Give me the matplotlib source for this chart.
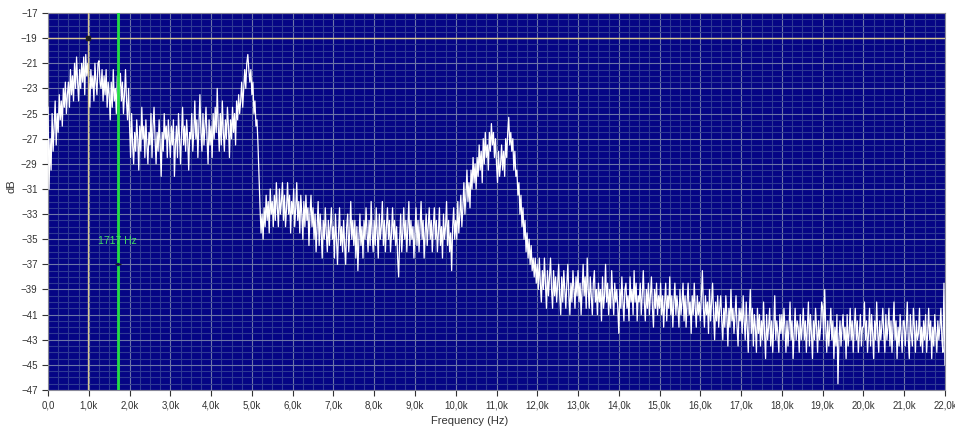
import numpy as np
import matplotlib.pyplot as plt
from matplotlib.ticker import MultipleLocator, FixedLocator

plt.rcParams['font.family'] = ['Liberation Sans', 'DejaVu Sans']

# spectrum magnitude in dB, one value every 25 Hz from 0 to 22 kHz (one row per 0.5 kHz)
step_hz = 25
spectrum_db = [
    -24.5, -31.0, -27.0, -29.5, -25.0, -28.0, -26.0, -24.0, -27.5, -25.0, -26.5, -23.5, -25.5, -24.0, -26.0, -23.0, -24.5, -22.5, -25.0, -23.5,
    -22.5, -24.5, -21.5, -23.5, -22.0, -24.0, -21.0, -23.0, -20.5, -22.5, -24.0, -21.5, -23.0, -21.0, -22.5, -20.5, -23.5, -20.3, -22.0, -21.0,
    -22.5, -24.5, -21.5, -23.0, -22.0, -24.0, -21.0, -22.5, -23.5, -21.0, -20.8, -22.5, -23.0, -21.5, -24.0, -22.0, -23.5, -21.5, -24.5, -22.5,
    -23.5, -25.5, -22.5, -24.5, -21.5, -24.0, -23.0, -25.0, -22.0, -24.5, -23.0, -21.8, -24.0, -22.5, -25.0, -23.5, -21.5, -24.0, -25.5, -23.0,
    -26.0, -28.5, -25.0, -27.5, -29.0, -26.5, -28.0, -25.5, -27.0, -29.5, -26.0, -28.0, -24.5, -27.0, -26.0, -28.5, -25.5, -27.5, -29.0, -26.5,
    -27.5, -25.0, -28.5, -26.0, -24.5, -27.0, -29.0, -26.5, -28.0, -25.5, -27.5, -30.0, -26.5, -28.0, -25.0, -27.0, -26.0, -28.5, -25.5, -27.0,
    -28.5, -26.0, -27.5, -25.5, -30.0, -27.5, -26.0, -28.5, -25.0, -27.0, -29.0, -26.5, -24.5, -27.5, -26.0, -28.0, -25.5, -27.0, -29.5, -26.5,
    -27.0, -25.0, -28.0, -26.5, -24.0, -27.0, -25.5, -28.5, -26.0, -23.5, -26.5, -28.0, -25.0, -27.5, -26.0, -24.5, -27.0, -29.0, -25.5, -27.5,
    -26.0, -28.5, -25.0, -27.0, -24.5, -26.5, -23.0, -26.0, -28.0, -25.0, -27.5, -24.0, -26.5, -28.0, -25.5, -27.0, -24.5, -26.0, -28.5, -25.5,
    -27.0, -24.5, -26.5, -25.0, -27.5, -24.0, -25.5, -23.5, -25.0, -24.0, -22.5, -24.5, -23.0, -21.5, -23.0, -21.0, -20.3, -21.5, -22.5, -21.5,
    -23.5, -22.5, -25.0, -24.0, -26.0, -25.5, -27.5, -30.0, -32.5, -34.5, -33.0, -35.0, -32.5, -34.0, -31.5, -33.5, -32.0, -34.5, -31.0, -33.0,
    -32.0, -34.0, -31.5, -33.5, -30.5, -32.5, -34.0, -31.0, -33.0, -32.0, -30.5, -33.5, -31.5, -34.0, -32.5, -30.5, -33.0, -31.5, -34.5, -32.0,
    -33.0, -31.0, -34.0, -32.5, -30.5, -33.5, -32.0, -34.5, -31.5, -33.0, -35.0, -32.0, -34.0, -31.5, -33.5, -32.5, -35.5, -33.0, -31.5, -34.0,
    -32.5, -35.0, -33.0, -36.0, -34.0, -32.0, -35.5, -33.0, -34.5, -36.5, -33.5, -35.0, -32.5, -34.5, -36.0, -33.5, -35.5, -34.0, -32.5, -35.0,
    -34.0, -36.5, -33.0, -35.0, -37.0, -34.5, -32.5, -35.5, -34.0, -36.0, -33.5, -35.5, -37.0, -34.0, -33.0, -36.0, -34.5, -32.0, -35.0, -33.5,
    -35.5, -33.5, -36.5, -34.0, -37.5, -35.0, -33.0, -35.5, -34.0, -36.5, -33.5, -35.0, -32.5, -34.5, -36.0, -33.5, -35.5, -32.0, -34.5, -36.0,
    -33.5, -35.5, -32.5, -34.5, -36.5, -33.0, -35.0, -34.0, -32.0, -35.5, -33.5, -36.0, -34.0, -32.5, -35.0, -33.5, -36.0, -34.5, -32.5, -35.0,
    -33.5, -35.5, -34.0, -36.5, -38.0, -35.0, -33.0, -36.0, -34.5, -32.5, -35.0, -33.5, -36.0, -34.0, -32.0, -35.5, -33.5, -35.0, -34.0, -36.5,
    -34.5, -32.5, -35.5, -33.5, -36.0, -34.0, -32.0, -35.0, -33.5, -36.5, -34.5, -33.0, -35.5, -34.0, -32.5, -35.0, -33.5, -36.0, -34.0, -32.5,
    -35.0, -33.5, -36.0, -34.5, -32.5, -35.5, -34.0, -36.5, -33.0, -35.0, -34.0, -32.0, -35.5, -33.5, -36.0, -34.5, -37.5, -34.0, -32.5, -35.0,
    -33.5, -35.0, -32.0, -34.5, -33.0, -31.5, -34.0, -32.5, -30.5, -33.0, -31.5, -29.5, -32.0, -30.5, -32.5, -29.5, -31.0, -28.5, -30.5, -29.0,
    -31.0, -28.5, -30.0, -27.5, -29.5, -28.0, -30.5, -27.0, -29.0, -26.5, -28.5, -27.5, -29.5, -26.5, -28.0, -25.8, -27.5, -26.5, -28.5, -27.0,
    -29.0, -30.5, -28.0, -30.0, -29.0, -27.5, -29.5, -28.0, -30.0, -27.0, -28.5, -26.5, -25.3, -27.5, -26.5, -28.0, -27.0, -29.5, -28.0, -30.0,
    -29.5, -31.5, -30.5, -33.0, -31.5, -34.0, -32.5, -35.0, -33.5, -36.0, -34.5, -36.5, -35.0, -37.0, -35.5, -37.5, -36.5, -38.0, -36.5, -38.5,
    -37.0, -39.0, -36.5, -38.5, -40.0, -37.5, -39.0, -36.5, -38.5, -40.5, -37.5, -39.5, -38.0, -36.5, -39.0, -40.5, -37.5, -39.5, -38.0, -40.0,
    -38.5, -37.0, -39.5, -41.0, -38.0, -40.0, -37.5, -39.0, -40.5, -38.5, -37.0, -39.5, -41.0, -38.5, -40.0, -37.5, -39.0, -40.5, -38.0, -39.5,
    -37.5, -40.0, -38.5, -41.0, -39.0, -37.0, -39.5, -38.0, -40.5, -36.5, -39.0, -40.5, -38.0, -39.5, -41.0, -38.5, -37.5, -40.0, -39.0, -41.0,
    -38.5, -40.0, -39.0, -41.5, -38.0, -40.5, -39.5, -37.0, -40.0, -38.5, -41.0, -39.0, -40.5, -37.5, -39.5, -41.0, -38.5, -40.0, -39.0, -40.5,
    -42.5, -39.0, -40.5, -38.0, -40.0, -41.5, -39.0, -38.5, -40.5, -39.5, -41.5, -38.0, -40.0, -39.0, -41.0, -37.5, -40.0, -38.5, -41.5, -39.5,
    -40.0, -38.5, -41.0, -39.5, -37.5, -40.0, -41.5, -39.0, -40.5, -38.5, -41.0, -39.5, -38.0, -40.5, -42.0, -39.0, -40.5, -38.5, -41.0, -39.5,
    -40.5, -38.5, -41.0, -39.5, -42.0, -40.0, -38.5, -41.5, -39.5, -40.5, -38.0, -41.0, -39.5, -42.0, -40.0, -38.5, -41.0, -39.5, -40.5, -42.0,
    -39.0, -41.0, -40.0, -38.5, -41.5, -39.5, -42.0, -40.0, -38.5, -41.0, -40.0, -42.5, -39.5, -41.0, -38.5, -40.5, -42.0, -39.5, -41.0, -40.0,
    -41.5, -39.5, -37.5, -40.5, -42.0, -39.5, -41.0, -40.0, -42.5, -39.0, -41.5, -40.0, -38.5, -41.0, -43.0, -40.0, -41.5, -39.5, -42.0, -40.5,
    -39.5, -41.5, -43.0, -40.5, -42.0, -39.5, -41.0, -43.5, -40.5, -42.0, -39.0, -41.5, -40.5, -42.5, -41.0, -39.5, -42.0, -43.5, -40.5, -41.5,
    -40.5, -42.5, -39.5, -41.5, -43.0, -40.0, -42.0, -44.0, -41.0, -39.0, -42.5, -40.5, -43.5, -41.0, -42.0, -44.0, -40.5, -42.5, -41.0, -43.5,
    -41.5, -43.0, -40.0, -42.5, -44.5, -41.0, -43.0, -42.0, -40.5, -43.5, -41.5, -44.0, -42.0, -39.5, -43.0, -41.5, -42.5, -44.0, -41.0, -42.5,
    -41.0, -43.0, -40.5, -42.0, -44.0, -41.5, -43.5, -42.0, -40.0, -43.0, -41.5, -44.5, -42.5, -40.5, -43.0, -41.5, -42.0, -44.0, -41.0, -43.0,
    -42.0, -40.5, -43.0, -41.5, -44.0, -42.0, -40.0, -43.5, -41.0, -42.5, -44.5, -41.5, -43.0, -40.5, -42.0, -44.0, -41.5, -43.0, -42.0, -40.0,
    -40.5, -43.0, -39.0, -42.0, -44.0, -41.5, -43.5, -42.0, -40.5, -43.0, -41.5, -44.5, -42.0, -43.5, -41.0, -46.5, -43.0, -41.5, -43.5, -42.0,
    -41.0, -43.0, -42.0, -44.5, -41.0, -43.5, -42.5, -40.5, -43.0, -41.5, -44.0, -42.0, -40.5, -43.0, -41.5, -44.0, -42.5, -41.0, -43.5, -42.0,
    -42.0, -40.0, -43.0, -41.5, -44.0, -42.5, -40.5, -43.5, -41.0, -42.5, -44.5, -41.5, -43.0, -40.0, -42.5, -44.0, -41.5, -43.0, -42.0, -40.5,
    -42.5, -44.0, -41.0, -43.0, -42.0, -40.5, -43.5, -41.5, -44.0, -42.0, -40.0, -43.0, -41.5, -44.5, -42.0, -43.5, -41.0, -42.5, -44.0, -41.5,
    -41.5, -43.5, -42.0, -40.0, -43.0, -44.5, -41.0, -42.5, -43.5, -40.5, -42.0, -44.0, -41.5, -43.0, -42.5, -40.5, -43.5, -42.0, -44.0, -41.5,
    -43.0, -41.0, -44.0, -42.5, -40.5, -43.0, -41.5, -44.5, -42.0, -43.5, -41.0, -42.5, -44.0, -41.5, -43.0, -42.0, -40.5, -43.0, -44.0, -38.5,
    -45.0,
]
freq_hz = np.arange(len(spectrum_db)) * step_hz

# cursors
cursor1_hz = 990
cursor1_db = -19
cursor2_hz = 1717
cursor2_db = -37
cursor2_label = '1717 Hz'

x_ticks = np.arange(0, 22001, 1000)
x_labels = ['0,0'] + [f'{k},0k' for k in range(1, 23)]
y_ticks = np.arange(-47, -16, 2)

fig = plt.figure(figsize=(9.55, 4.28), dpi=100)
ax = fig.add_axes([0.0503, 0.0888, 0.9392, 0.8808])
ax.set_facecolor('#050585')

ax.plot(freq_hz, spectrum_db, color='white', linewidth=0.9, zorder=3)

ax.set_xlim(0, 22000)
ax.set_ylim(-47, -17)

ax.xaxis.set_major_locator(FixedLocator(x_ticks))
ax.xaxis.set_minor_locator(MultipleLocator(250))
ax.yaxis.set_major_locator(FixedLocator(y_ticks))
ax.yaxis.set_minor_locator(MultipleLocator(0.5))
ax.set_xticklabels(x_labels)

ax.grid(which='minor', color='#2f3a94', linewidth=0.8)
ax.grid(which='major', color='#6d76a8', linewidth=0.8)
ax.set_axisbelow(True)

ax.tick_params(which='major', labelsize=7, colors='#333333', length=4, width=0.8)
ax.tick_params(which='minor', length=0)
for s in ax.spines.values():
    s.set_color('#8a8a9a')
    s.set_linewidth(0.8)

ax.set_xlabel('Frequency (Hz)', fontsize=8, color='#333333')
ax.xaxis.set_label_coords(0.47, -0.07)
ax.set_ylabel('dB', fontsize=8, color='#333333')
ax.yaxis.set_label_coords(-0.035, 0.54)

# cursor 1: tan crosshair
ax.axvline(cursor1_hz, color='#d8c890', linewidth=1.0, zorder=4)
ax.axhline(cursor1_db, color='#d8c890', linewidth=1.0, zorder=4)
ax.plot([cursor1_hz], [cursor1_db], marker='s', markersize=2.5, color='#202020', zorder=5)

# cursor 2: green vertical with a gap at the marker
ax.plot([cursor2_hz, cursor2_hz], [-47, cursor2_db - 0.25], color='#22dd44', linewidth=2.0, zorder=4)
ax.plot([cursor2_hz, cursor2_hz], [cursor2_db + 0.25, -17], color='#22dd44', linewidth=2.0, zorder=4)
ax.plot([cursor2_hz], [cursor2_db], marker='_', markersize=5, color='#202020', zorder=5)
ax.text(cursor2_hz - 500, cursor2_db + 1.6, cursor2_label, color='#44dd66', fontsize=7.5, zorder=5)

fig.savefig('out.png', dpi=100)
